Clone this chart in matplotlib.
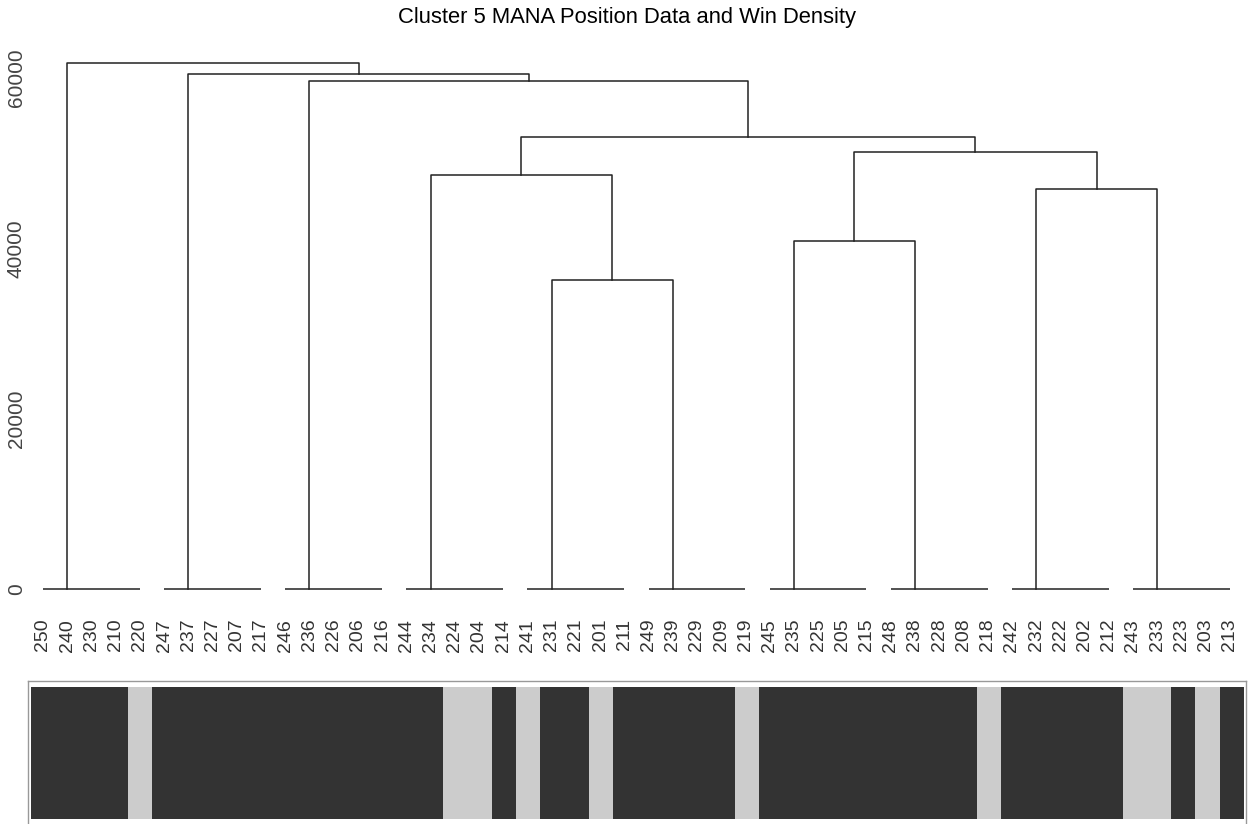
import matplotlib
matplotlib.use('Agg')
import matplotlib.pyplot as plt

plt.rcParams['font.family'] = ['Liberation Sans', 'DejaVu Sans']

# leaf labels in dendrogram order (10 groups of 5 identical members)
leaf_labels = ['250', '240', '230', '210', '220', '247', '237', '227', '207', '217',
               '246', '236', '226', '206', '216', '244', '234', '224', '204', '214',
               '241', '231', '221', '201', '211', '249', '239', '229', '209', '219',
               '245', '235', '225', '205', '215', '248', '238', '228', '208', '218',
               '242', '232', '222', '202', '212', '243', '233', '223', '203', '213']
group_size = 5

# merges between groups (g#) and earlier merges (m#)
merge_left = ['g4', 'g3', 'g6', 'g8', 'm2', 'm1', 'g2', 'g1', 'g0']
merge_right = ['g5', 'm0', 'g7', 'g9', 'm3', 'm4', 'm5', 'm6', 'm7']
merge_height = [36300, 48600, 40900, 47000, 51300, 53100, 59600, 60500, 61800]

# win density per leaf: 1 = dark, 0 = light
win_density = [1, 1, 1, 1, 0, 1, 1, 1, 1, 1,
               1, 1, 1, 1, 1, 1, 1, 0, 0, 1,
               0, 1, 1, 0, 1, 1, 1, 1, 1, 0,
               1, 1, 1, 1, 1, 1, 1, 1, 1, 0,
               1, 1, 1, 1, 1, 0, 0, 1, 0, 1]

W, H = 1254, 824
fig = plt.figure(figsize=(W / 100, H / 100), dpi=100)

def px_axes(left, top, right, bottom):
    return fig.add_axes([left / W, 1 - bottom / H, (right - left) / W, (bottom - top) / H])

# --- dendrogram ---
ax = px_axes(30, 40, 1245, 600)
lc = '#222222'
lw = 1.1
n = len(leaf_labels)
xs = list(range(1, n + 1))

nodes = {}
for g in range(n // group_size):
    a = xs[g * group_size]
    b = xs[g * group_size + group_size - 1]
    ax.plot([a, b], [0, 0], color=lc, lw=lw, solid_capstyle='butt')
    nodes['g%d' % g] = (xs[g * group_size + 1], 0)

for i, (l, r, h) in enumerate(zip(merge_left, merge_right, merge_height)):
    x1, h1 = nodes[l]
    x2, h2 = nodes[r]
    ax.plot([x1, x1, x2, x2], [h1, h, h, h2], color=lc, lw=lw)
    nodes['m%d' % i] = ((x1 + x2) / 2, h)

px_per_unit = 24.22
ax.set_xlim(1 - 13 / px_per_unit, 1 + (1245 - 43) / px_per_unit)
scale = 8.517 / 1000
ax.set_ylim((589 - 600) / scale, (589 - 40) / scale)
for s in ax.spines.values():
    s.set_visible(False)

ax.set_yticks([0, 20000, 40000, 60000])
ax.set_yticklabels(['0', '20000', '40000', '60000'], rotation=90, va='center',
                   fontsize=15, color='#444444')
ax.tick_params(axis='y', length=0, pad=3)

ax.set_xticks(xs)
ax.set_xticklabels(leaf_labels, rotation=90, va='top', ha='center',
                   fontsize=14, color='#333333')
ax.tick_params(axis='x', length=0, pad=13.5)

fig.text(0.5, 1 - 18 / H, 'Cluster 5 MANA Position Data and Win Density',
         ha='center', va='center', fontsize=15.8, color='black')

# --- win density bar ---
bx = px_axes(28, 681, 1245.5, 826)
cell_w = (1244 - 31) / n
colors = ['#333333' if v == 1 else '#cccccc' for v in win_density]
bx.bar(range(n), [1] * n, width=1.0, align='edge', color=colors, linewidth=0)
bx.set_xlim(-3 / cell_w, n + 1.5 / cell_w)
bx.set_ylim(-7 / 132, 1 + 6 / 132)
bx.set_xticks([])
bx.set_yticks([])
for s in bx.spines.values():
    s.set_color('#999999')
    s.set_linewidth(1.0)

fig.savefig('out.png', dpi=100)
